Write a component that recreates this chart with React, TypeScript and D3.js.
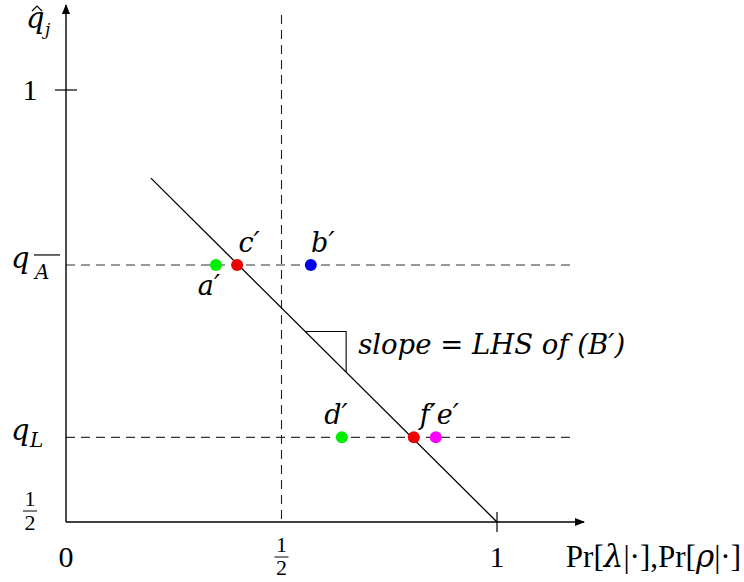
import * as d3 from 'd3';

// axis domain / ticks
const xDomain = [0, 1];
const yDomain = [0.5, 1];
const yLevelNames = ['qA', 'qL'];
const yLevelVals = [0.7975, 0.598];

// the downward sloping line (start, end)
const lineXs = [0.197, 1];
const lineYs = [0.898, 0.5];

// labelled points
const pointNames = ["a′", "c′", "b′", "d′", "f′", "e′"];
const pointXs = [0.348, 0.397, 0.568, 0.64, 0.807, 0.858];
const pointYs = [0.7975, 0.7975, 0.7975, 0.598, 0.598, 0.598];
const pointColors = ['#00ee00', '#ee0000', '#0000ee', '#00ee00', '#ee0000', '#ff00ff'];

const W = 744;
const H = 582;
const FONT = 'Liberation Serif';
const IFONT = 'DejaVu Serif';

export default function App() {
  const x = d3.scaleLinear().domain(xDomain).range([66, 497]);
  const y = d3.scaleLinear().domain(yDomain).range([522, 90]);
  const line = d3.line<[number, number]>().x(d => x(d[0])).y(d => y(d[1]));
  const lineData: [number, number][] = lineXs.map((v, i) => [v, lineYs[i]]);

  const x0 = x(0), y0 = y(0.5);
  const dash = '9,6';

  // label offsets per point
  const labelPos: Record<string, [number, number]> = {
    "a′": [-7, 30], "c′": [12, -13], "b′": [12, -13], "d′": [-6, -13], "f′": [14, -13], "e′": [12, -13],
  };

  // slope triangle
  const tx1 = 0.555, tx2 = 0.65;
  const slopeAt = (v: number) => d3.scaleLinear().domain(lineXs).range(lineYs)(v);
  const it = { fontFamily: IFONT, fontStyle: 'italic' } as const;

  return (
    <svg width={W} height={H} style={{ position: 'absolute', left: 0, top: 0, background: '#fff' }}
      fontFamily={FONT}>
      <defs>
        <marker id="arr" viewBox="0 0 10 10" refX="9" refY="5" markerWidth="10" markerHeight="10"
          markerUnits="userSpaceOnUse" orient="auto">
          <path d="M0,1 L10,5 L0,9 Z" fill="#000" />
        </marker>
      </defs>

      {/* dashed guides */}
      {yLevelVals.map((v, i) => (
        <line key={yLevelNames[i]} x1={x0} x2={575} y1={y(v)} y2={y(v)}
          stroke="#333" strokeWidth={1.1} strokeDasharray={dash} />
      ))}
      <line x1={x(0.5)} x2={x(0.5)} y1={15} y2={y0} stroke="#222" strokeWidth={1.1} strokeDasharray={dash} />

      {/* axes */}
      <line x1={x0} x2={584} y1={y0} y2={y0} stroke="#000" strokeWidth={1.4} markerEnd="url(#arr)" />
      <line x1={x0} x2={x0} y1={y0} y2={5} stroke="#000" strokeWidth={1.4} markerEnd="url(#arr)" />
      <line x1={x(1)} x2={x(1)} y1={y0 - 10} y2={y0 + 10} stroke="#000" strokeWidth={1.2} />
      <line x1={x0 - 11} x2={x0 + 11} y1={y(1)} y2={y(1)} stroke="#000" strokeWidth={1.2} />

      {/* main line */}
      <path d={line(lineData) ?? ''} fill="none" stroke="#000" strokeWidth={1.3} />

      {/* slope triangle */}
      <path d={`M${x(tx1)},${y(slopeAt(tx1))} H${x(tx2)} V${y(slopeAt(tx2))}`}
        fill="none" stroke="#000" strokeWidth={1.1} />
      <text x={x(tx2) + 12} y={y(slopeAt(tx1)) + 23} fontSize={27.5} style={it}>
        slope = LHS of (B′)
      </text>

      {/* points */}
      {pointNames.map((n, i) => (
        <g key={n}>
          <circle cx={x(pointXs[i])} cy={y(pointYs[i])} r={6} fill={pointColors[i]} />
          <text x={x(pointXs[i]) + labelPos[n][0]} y={y(pointYs[i]) + labelPos[n][1]}
            fontSize={27} style={it} textAnchor="middle">{n}</text>
        </g>
      ))}

      {/* x tick labels */}
      <text x={x(0)} y={567} fontSize={30} textAnchor="middle">0</text>
      <g fontSize={22} textAnchor="middle">
        <text x={x(0.5)} y={552}>1</text>
        <line x1={x(0.5) - 7} x2={x(0.5) + 7} y1={557} y2={557} stroke="#000" strokeWidth={1} />
        <text x={x(0.5)} y={575}>2</text>
      </g>
      <text x={x(1)} y={567} fontSize={30} textAnchor="middle">1</text>
      <text x={741} y={567} fontSize={31} textAnchor="end">
        Pr[<tspan style={it}>λ</tspan>|·],Pr[<tspan style={it}>ρ</tspan>|·]
      </text>

      {/* y labels */}
      <text x={30} y={y(1) + 10} fontSize={30} textAnchor="middle">1</text>
      <g fontSize={22} textAnchor="middle">
        <text x={30} y={506}>1</text>
        <line x1={23} x2={37} y1={511} y2={511} stroke="#000" strokeWidth={1} />
        <text x={30} y={530}>2</text>
      </g>
      <g style={it}>
        <text x={11} y={y(yLevelVals[0]) + 3} fontSize={29}>q</text>
        <text x={35} y={y(yLevelVals[0]) + 14} fontSize={20}>A</text>
        <line x1={34} x2={60} y1={y(yLevelVals[0]) - 10} y2={y(yLevelVals[0]) - 10} stroke="#000" strokeWidth={1.2} />
        <text x={11} y={y(yLevelVals[1]) + 3} fontSize={29}>q</text>
        <text x={30} y={y(yLevelVals[1]) + 10} fontSize={20}>L</text>
        <text x={26} y={28} fontSize={29}>q</text>
        <text x={45} y={35} fontSize={17}>j</text>
      </g>
      <path d="M32,11 L37,6 L42,11" fill="none" stroke="#000" strokeWidth={1.2} />
    </svg>
  );
}
